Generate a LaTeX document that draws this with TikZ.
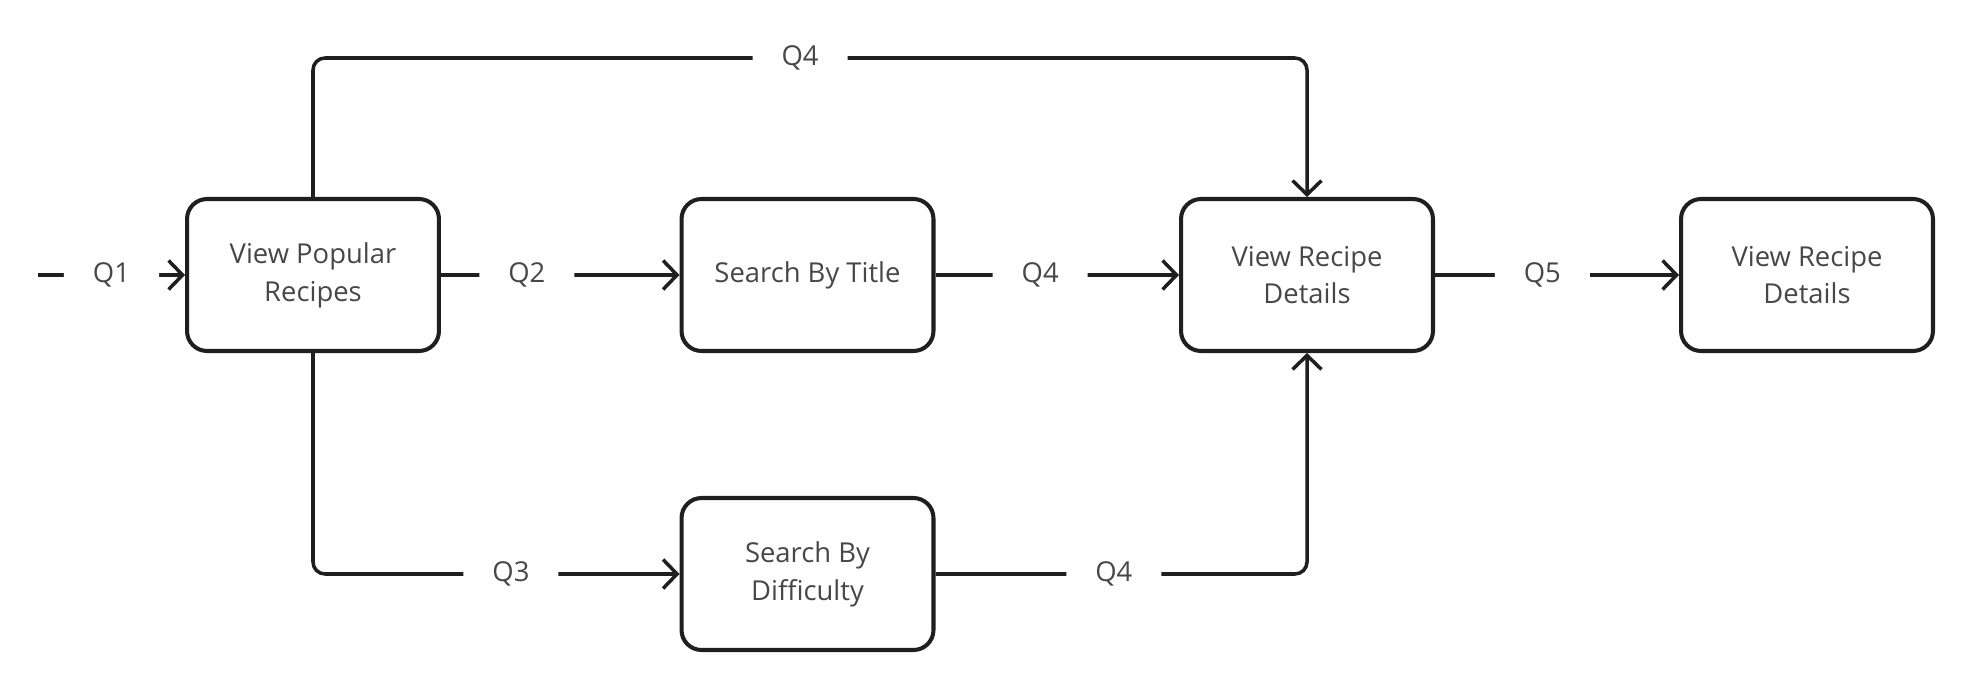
\documentclass[tikz,border=0pt]{standalone}
\usepackage{fontspec}
\setmainfont{Open Sans}
\usetikzlibrary{arrows.meta}

\begin{document}
\begin{tikzpicture}[x=0.02cm,y=-0.02cm,>/.tip={Straight Barb[length=0.28cm,width=0.58cm,line width=2pt]},
	box/.style={draw=black!88,line width=2.3pt,rounded corners=0.4cm,minimum width=5.04cm,minimum height=3.04cm,align=center,text=black!72,font=\fontsize{15.6}{21.5}\selectfont},
	link/.style={draw=black!88,line width=2pt,rounded corners=0.24cm},
	tag/.style={fill=white,text=black!72,inner xsep=0.58cm,inner ysep=2pt,font=\fontsize{15.6}{21.5}\selectfont}]
	\useasboundingbox (0,0) rectangle (1975,693);
	\draw (313,275) node (pop) [box] {View Popular\\Recipes};
	\draw (807.5,275) node (title) [box] {Search By Title};
	\draw (807.5,574) node (diff) [box] {Search By\\Difficulty};
	\draw (1307,275) node (det) [box] {View Recipe\\Details};
	\draw (1807,275) node (det2) [box] {View Recipe\\Details};
	\coordinate (start) at (38,275);
	\coordinate (top) at (0,58);
	
	\draw[link,->] (start) -- node [tag] {Q1} (pop.west);
	\draw[link,->] (pop.east) -- node [tag,pos=0.36] {Q2} (title.west);
	\draw[link,->] (title.east) -- node [tag,pos=0.43] {Q4} (det.west);
	\draw[link,->] (det.east) -- node [tag,pos=0.44] {Q5} (det2.west);
	\draw[link,->] (pop.north) -- (pop.north |- top) -- node [tag,pos=0.49] {Q4} (det.north |- top) -- (det.north);
	\draw[link,->] (pop.south) |- node [tag,pos=0.77] {Q3} (diff.west);
	\draw[link,->] (diff.east) -| node [tag,pos=0.24] {Q4} (det.south);
\end{tikzpicture}
\end{document}
